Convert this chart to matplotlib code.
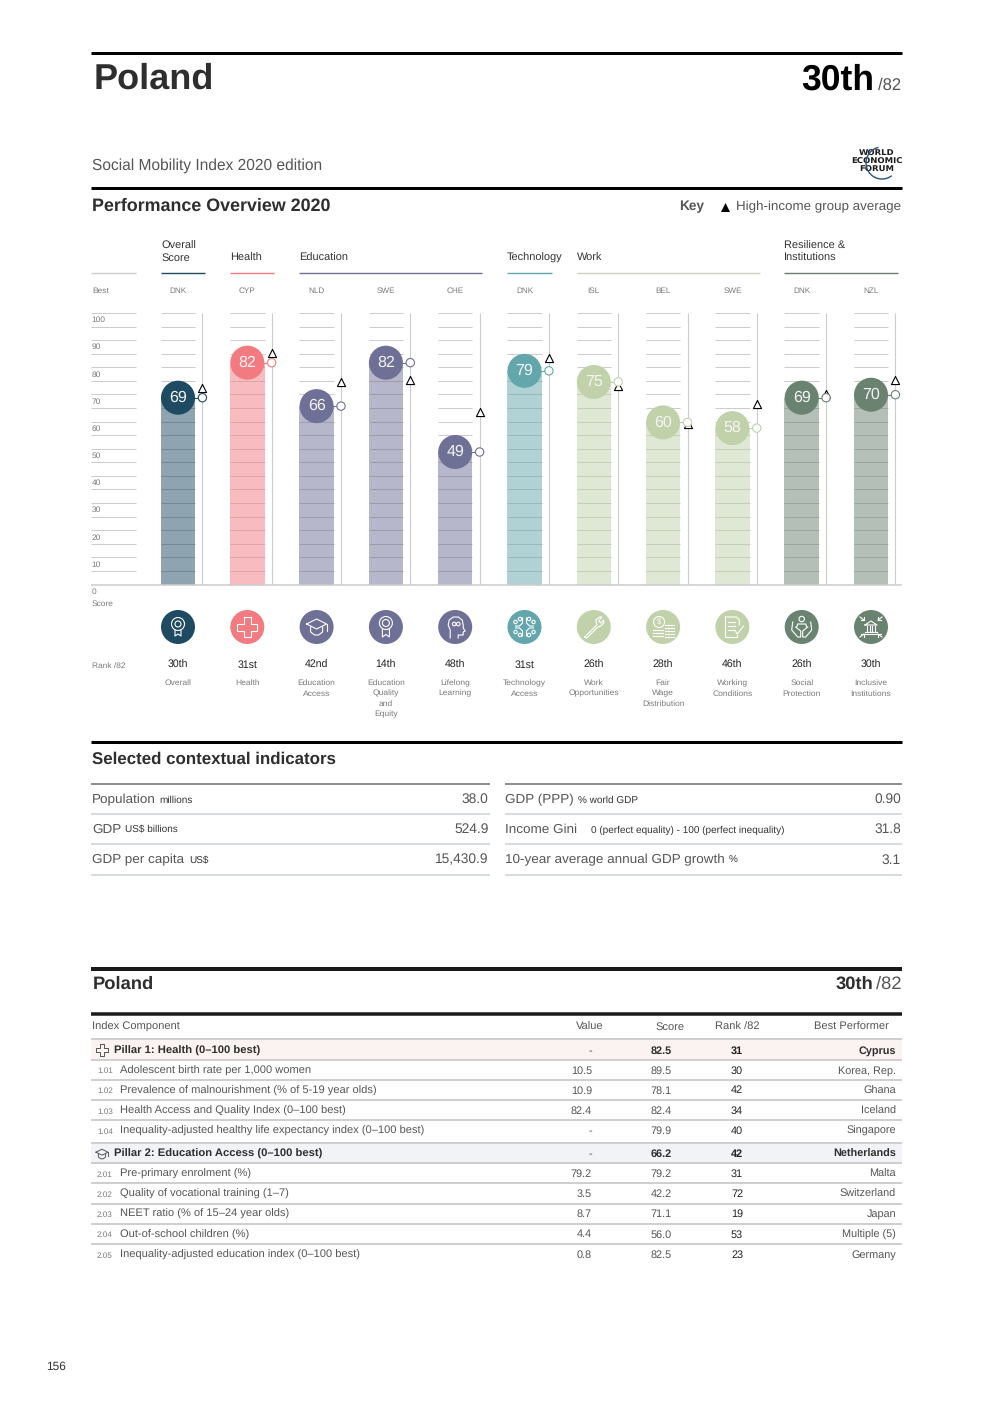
'''
Recreate the Poland country profile page of the Social Mobility Index 2020.
'''
import matplotlib
matplotlib.use("Agg")
import matplotlib.pyplot as plt
import numpy as np
from matplotlib.patches import Circle, Rectangle
from matplotlib.transforms import blended_transform_factory

plt.rcParams["font.family"] = ["Liberation Sans", "DejaVu Sans"]
plt.rcParams["text.hinting"] = "no_hinting"

# Pillar chart data
best_codes = ["DNK", "CYP", "NLD", "SWE", "CHE", "DNK", "ISL", "BEL", "SWE", "DNK", "NZL"]
scores = [68.8, 81.7, 65.7, 81.7, 48.8, 78.7, 74.6, 59.7, 57.6, 68.8, 69.9]
high_income_avg = [72.5, 85.4, 74.5, 75.3, 63.4, 83.5, 73.2, 59.3, 66.5, 70.0, 75.3]
ranks = ["30th", "31st", "42nd", "14th", "48th", "31st", "26th", "28th", "46th", "26th", "30th"]
pillar_names = [
  "Overall", "Health", "Education\nAccess", "Education\nQuality\nand\nEquity",
  "Lifelong\nLearning", "Technology\nAccess", "Work\nOpportunities",
  "Fair\nWage\nDistribution", "Working\nConditions", "Social\nProtection",
  "Inclusive\nInstitutions",
]
pillar_colors = [
  "#1e4a62", "#f27b82", "#6f7096", "#6f7096", "#6f7096", "#63a7ad",
  "#c1d2aa", "#c1d2aa", "#c1d2aa", "#6a8371", "#6a8371",
]
icon_names = [
  "medal", "plus", "cap", "rosette", "head", "circuit",
  "wrench", "coins", "document", "hands", "building",
]
score_ticks = [0, 10, 20, 30, 40, 50, 60, 70, 80, 90, 100]

# Contextual indicators
left_labels = ["Population", "GDP", "GDP per capita"]
left_units = ["millions", "US$ billions", "US$"]
left_values = ["38.0", "524.9", "15,430.9"]
right_labels = ["GDP (PPP)", "Income Gini", "10-year average annual GDP growth"]
right_units = ["% world GDP", "0 (perfect equality) - 100 (perfect inequality)", "%"]
right_values = ["0.90", "31.8", "3.1"]

# Index component table
row_codes = ["", "1.01", "1.02", "1.03", "1.04", "", "2.01", "2.02", "2.03", "2.04", "2.05"]
row_names = [
  "Pillar 1: Health (0–100 best)",
  "Adolescent birth rate per 1,000 women",
  "Prevalence of malnourishment (% of 5-19 year olds)",
  "Health Access and Quality Index (0–100 best)",
  "Inequality-adjusted healthy life expectancy index (0–100 best)",
  "Pillar 2: Education Access (0–100 best)",
  "Pre-primary enrolment (%)",
  "Quality of vocational training (1–7)",
  "NEET ratio (% of 15–24 year olds)",
  "Out-of-school children (%)",
  "Inequality-adjusted education index (0–100 best)",
]
row_values = ["-", "10.5", "10.9", "82.4", "-", "-", "79.2", "3.5", "8.7", "4.4", "0.8"]
row_scores = ["82.5", "89.5", "78.1", "82.4", "79.9", "66.2", "79.2", "42.2", "71.1", "56.0", "82.5"]
row_ranks = ["31", "30", "42", "34", "40", "42", "31", "72", "19", "53", "23"]
row_best = [
  "Cyprus", "Korea, Rep.", "Ghana", "Iceland", "Singapore", "Netherlands",
  "Malta", "Switzerland", "Japan", "Multiple (5)", "Germany",
]

# Layout in page pixels
row_centres = [1050, 1069.5, 1089.5, 1110, 1130, 1153, 1173, 1193, 1213, 1233.5, 1254]
row_rules = [1039, 1059.5, 1079.5, 1099.7, 1120, 1143.3, 1163, 1183, 1203.7, 1223.7, 1243.7]
WIDTH, HEIGHT = 992, 1403
COLUMN_START, COLUMN_STEP = 178.0, 69.3
CHART_TOP, CHART_BOTTOM = 313.0, 584.5
DARK, MID, LIGHT = "#2e2e2e", "#555555", "#7a7a7a"
GRID = "#cccccc"

fig = plt.figure(figsize=(WIDTH / 100, HEIGHT / 100), dpi=100)

# Define a page axes in pixels for the text, the rules and the icons
page = fig.add_axes([0, 0, 1, 1], zorder=1)
page.set_xlim(0, WIDTH)
page.set_ylim(HEIGHT, 0)
page.axis("off")

# Define the chart axes with categories on x and the score on y
chart = fig.add_axes(
  [91 / WIDTH, 1 - CHART_BOTTOM / HEIGHT, (902 - 91) / WIDTH, (CHART_BOTTOM - CHART_TOP) / HEIGHT],
  zorder=2,
)
chart.set_xlim((91 - COLUMN_START) / COLUMN_STEP, (902 - COLUMN_START) / COLUMN_STEP)
chart.set_ylim(0, 100)
chart.axis("off")
chart.patch.set_alpha(0)

# Category on x, page pixel on y
column_page = blended_transform_factory(chart.transData, page.transData)


def text(x, y, s, size, color=MID, weight="normal", ha="left", va="center", **kwargs):
  # Centre on the cap height through the baseline, so descenders do not shift a row
  if va == "center":
    y = y + 0.497 * size
    va = "baseline"
  return page.text(x, y, s, fontsize=size, color=color, fontweight=weight, ha=ha, va=va, **kwargs)


def rule(x0, x1, y, width, color):
  page.plot([x0, x1], [y, y], color=color, lw=width * 0.72, solid_capstyle="butt")


def draw_icon(name, cx, cy, color="white", scale=1.0, lw=0.8):
  # Draw one simplified pillar glyph around the centre of its disc
  def line(points, closed=False):
    pts = np.array(points, dtype=float) * scale + [cx, cy]
    if closed:
      pts = np.vstack([pts, pts[0]])
    page.plot(pts[:, 0], pts[:, 1], color=color, lw=lw, zorder=6, solid_joinstyle="round")

  def ring(x, y, r):
    page.add_patch(Circle((cx + x * scale, cy + y * scale), r * scale, fill=False, ec=color, lw=lw, zorder=6))

  if name == "medal":
    ring(0, -3, 6.5)
    ring(0, -3, 3)
    line([(-3, 3), (-3, 9), (0, 7), (3, 9), (3, 3)])
  elif name == "plus":
    line([(-3.5, -10), (3.5, -10), (3.5, -3.5), (10, -3.5), (10, 3.5), (3.5, 3.5),
          (3.5, 10), (-3.5, 10), (-3.5, 3.5), (-10, 3.5), (-10, -3.5), (-3.5, -3.5)], closed=True)
  elif name == "cap":
    line([(-10, -3), (0, -8), (10, -3), (0, 2)], closed=True)
    line([(-6, 0), (-6, 5), (-2, 8), (2, 8), (6, 5), (6, 0)])
    line([(10, -3), (10, 4)])
  elif name == "rosette":
    ring(0, -4, 6.5)
    ring(0, -4, 3.5)
    line([(-3.5, 2), (-3.5, 10), (0, 7.5), (3.5, 10), (3.5, 2)])
  elif name == "head":
    line([(-5, 11), (-5, 3), (-7, -2), (-6, -7), (-2, -10), (3, -10), (7, -7), (8, -2),
          (8, 1), (10, 4), (8, 5), (8, 8), (3, 8), (3, 11)])
    ring(-1, -3, 1.8)
    ring(3, -3, 1.8)
  elif name == "circuit":
    for sx in (-1, 1):
      line([(sx * 2, -9), (sx * 2, -4), (sx * 5, -1), (sx * 9, -1)])
      line([(sx * 2, 9), (sx * 2, 4), (sx * 5, 1), (sx * 9, 1)])
      for x, y in ((4.5, -8), (9, -5), (9, 5), (4.5, 8)):
        ring(sx * x, y, 1.7)
  elif name == "wrench":
    line([(-9, 10), (3, -2), (2, -7), (6, -10), (8, -10), (5, -6), (7, -4), (10, -7),
          (10, -4), (7, -1), (4, 0), (-7, 11)], closed=True)
  elif name == "coins":
    ring(-4, -5, 5.5)
    page.text(cx - 4 * scale, cy - 5 * scale, "$", color=color, fontsize=5.5, ha="center", va="center", zorder=6)
    for y in (3, 6, 9):
      line([(-10, y), (0, y)])
    for y in (-2, 1, 4, 7, 10):
      line([(2, y), (11, y)])
  elif name == "document":
    line([(-7, -10), (4, -10), (7, -7), (7, -2)])
    line([(-7, -10), (-7, 10), (5, 10), (5, 8)])
    for y in (-5, -1, 3):
      line([(-4, y), (3, y)])
    line([(2, 3), (5, 7), (11, -1)])
  elif name == "hands":
    ring(0, -8, 2.7)
    line([(-5, 0), (-4, -3), (4, -3), (5, 0)])
    line([(-9, -5), (-10, 3), (-4, 10), (-1, 10), (-1, 4), (-6, 0)])
    line([(9, -5), (10, 3), (4, 10), (1, 10), (1, 4), (6, 0)])
  elif name == "building":
    line([(-6, -2), (0, -6), (6, -2)], closed=True)
    for x in (-4, -1.3, 1.3, 4):
      line([(x, -1), (x, 4)])
    line([(-6, 5), (6, 5)])
    line([(-7, 7), (7, 7)])
    for sx, sy in ((-1, -1), (1, -1), (-1, 1), (1, 1)):
      line([(sx * 11, sy * 10), (sx * 7, sy * 7)])
      line([(sx * 7, sy * 10), (sx * 7, sy * 7), (sx * 10, sy * 7)])


# Page header
rule(91, 902, 52.5, 3, "black")
text(94, 89, "Poland", 26, DARK, "bold", va="baseline")
text(874, 89.5, "30th", 25.6, "black", "bold", ha="right", va="baseline")
text(901, 89.5, "/82", 12, MID, ha="right", va="baseline")
text(92, 170, "Social Mobility Index 2020 edition", 11.2, MID, va="baseline")
rule(91, 902, 188, 3, "black")
text(92, 211, "Performance Overview 2020", 12.9, DARK, "bold", va="baseline")
text(679, 205.5, "Key", 9.8, MID, "bold")
page.scatter([725], [206.5], marker="^", s=42, color="black", linewidths=0)
text(901, 205.5, "High-income group average", 9.65, MID, ha="right")

# World Economic Forum mark
for y, word in zip((153, 161, 169), ("WORLD", "ECONOMIC", "FORUM")):
  text(876.5, y, word, 6.1, "#1c1c1c", "bold", ha="center", family="DejaVu Sans")
arc_angle = np.radians(np.linspace(105, 305, 60))
page.plot(882 + 16 * np.cos(arc_angle), 163 - 16 * np.sin(arc_angle), color="#27507f", lw=1.0, zorder=5)

# Pillar group headers
group_heads = [
  (161, 205, "Overall\nScore", "#1e4a62"), (230, 274, "Health", "#f27b82"),
  (299, 482, "Education", "#6f7096"), (507, 552, "Technology", "#63a7ad"),
  (577, 760, "Work", "#cdd2bb"), (784, 898, "Resilience &\nInstitutions", "#6a7f72"),
]
rule(91, 136, 272.5, 1.4, GRID)
for x0, x1, label, color in group_heads:
  rule(x0, x1, 272.5, 1.4, color)
  text(x0, 263, label, 7.9, "#333333", va="bottom", linespacing=1.15)

text(92, 290, "Best", 6, LIGHT)
text(92, 603, "Score", 6, LIGHT)
text(92, 665, "Rank /82", 6, LIGHT)

positions = np.arange(len(scores))
bar_width = 34.5 / COLUMN_STEP
line_offset = 24.4 / COLUMN_STEP
grid_levels = np.arange(5, 101, 5)

# Grid on the far left next to the score labels
chart.hlines(grid_levels, (91 - COLUMN_START) / COLUMN_STEP, (136 - COLUMN_START) / COLUMN_STEP,
             color=GRID, lw=0.75, zorder=1)
for tick in score_ticks:
  chart.annotate(str(tick), (chart.get_xlim()[0], tick), xytext=(0.5, -2.5), textcoords="offset points",
                 fontsize=6, color=LIGHT, ha="left", va="top", annotation_clip=False)

# Draw each pillar: grid, bar, guide line, markers and score
for position, score, color in zip(positions, scores, pillar_colors):
  chart.hlines(grid_levels, position - bar_width / 2, position + bar_width / 2, color=GRID, lw=0.75, zorder=1)
  chart.vlines(position + line_offset, 0, 100, color=GRID, lw=0.8, zorder=1)
  chart.plot([position, position + line_offset], [score, score], color=color, lw=0.8, zorder=3)
chart.bar(positions, scores, width=bar_width, color=pillar_colors, alpha=0.5, linewidth=0, zorder=2)
chart.hlines(0, *chart.get_xlim(), color=GRID, lw=1.1, zorder=3, clip_on=False)
chart.scatter(positions + line_offset, high_income_avg, marker="^", s=34, facecolor="white",
              edgecolor="black", linewidths=0.8, zorder=4, clip_on=False)
chart.scatter(positions + line_offset, scores, marker="o", s=36, facecolor="white",
              edgecolor=pillar_colors, linewidths=0.8, zorder=5, clip_on=False)
chart.scatter(positions, scores, marker="o", s=(34 * 0.72) ** 2, color=pillar_colors, linewidths=0, zorder=6, clip_on=False)
for position, score in zip(positions, scores):
  chart.text(position, score, str(round(score)), color="#f4f4f4", fontsize=11.5, ha="center", va="center", zorder=7)

# Country code, icon, rank and name under each pillar
page.scatter(positions, [627] * len(positions), marker="o", s=(34 * 0.72) ** 2, color=pillar_colors,
             linewidths=0, transform=column_page, zorder=5, clip_on=False)
for position, code, rank, name, icon in zip(positions, best_codes, ranks, pillar_names, icon_names):
  centre_x = COLUMN_START + position * COLUMN_STEP
  text(centre_x, 290, code, 5.9, LIGHT, ha="center")
  text(centre_x, 664.5, rank, 7.6, "#222222", ha="center")
  text(centre_x, 679.5, name, 6.1, LIGHT, ha="center", va="top", linespacing=1.5)
  draw_icon(icon, centre_x, 627)

# Selected contextual indicators
rule(91, 902, 741.5, 3, "black")
text(92, 758, "Selected contextual indicators", 12.15, DARK, "bold")
for x0, x1 in ((91, 490), (505, 902)):
  rule(x0, x1, 784, 2, "#8f8f8f")
  for y in (814, 844.3, 875):
    rule(x0, x1, y, 2, "#d6dce0")
left_unit_x = [159, 125, 189]
right_unit_x = [578, 591, 729]
for index, y in enumerate((798, 828, 858.5)):
  text(92, y, left_labels[index], 9.7, MID)
  text(left_unit_x[index], y + 1, left_units[index], 7.2, "#333333")
  text(488.5, y, left_values[index], 9.9, MID, ha="right")
  text(505, y, right_labels[index], 9.7, MID)
  text(right_unit_x[index], y + 1, right_units[index], 7.2, "#333333")
  text(901, y, right_values[index], 9.9, MID, ha="right")

# Table heading
rule(91, 902, 969, 4, "#1a1a1a")
text(93, 982.5, "Poland", 13.2, DARK, "bold")
text(873.5, 982.5, "30th", 13.2, DARK, "bold", ha="right")
text(902, 982.5, "/82", 13.2, MID, ha="right")
rule(91, 902, 1013.7, 3.5, "#1a1a1a")
text(92, 1026, "Index Component", 8, MID)
text(604, 1026, "Value", 8, MID, ha="right")
text(685, 1026, "Score", 8, MID, ha="right")
text(737, 1026, "Rank /82", 8, MID, ha="center")
text(889, 1026, "Best Performer", 8, MID, ha="right")

# Table rows
page.add_patch(Rectangle((91, 1040), 811, 19, color="#fbf3f1", lw=0, zorder=0))
page.add_patch(Rectangle((91, 1144), 811, 19, color="#f2f3f6", lw=0, zorder=0))
for y in row_rules:
  rule(91, 902, y, 2, "#cfcfcf")
for index, y in enumerate(row_centres):
  is_pillar = row_codes[index] == ""
  weight = "bold" if is_pillar else "normal"
  if is_pillar:
    text(114, y, row_names[index], 8.1, DARK, "bold")
  else:
    text(97, y + 0.5, row_codes[index], 5.9, LIGHT)
    text(120.5, y, row_names[index], 8, MID)
  text(592, y, row_values[index], 7.85, MID, ha="right")
  text(672, y, row_scores[index], 7.85, DARK if is_pillar else MID, weight, ha="right")
  text(737, y, row_ranks[index], 7.85, "#222222", weight, ha="center")
  text(896, y, row_best[index], 7.85, DARK if is_pillar else MID, weight, ha="right")
draw_icon("plus", 102, 1050, color="#555555", scale=0.6, lw=0.7)
draw_icon("cap", 102, 1154, color="#555555", scale=0.6, lw=0.7)

text(46, 1366, "156", 8.6, "#333333")

fig.savefig("out.png", dpi=100)
